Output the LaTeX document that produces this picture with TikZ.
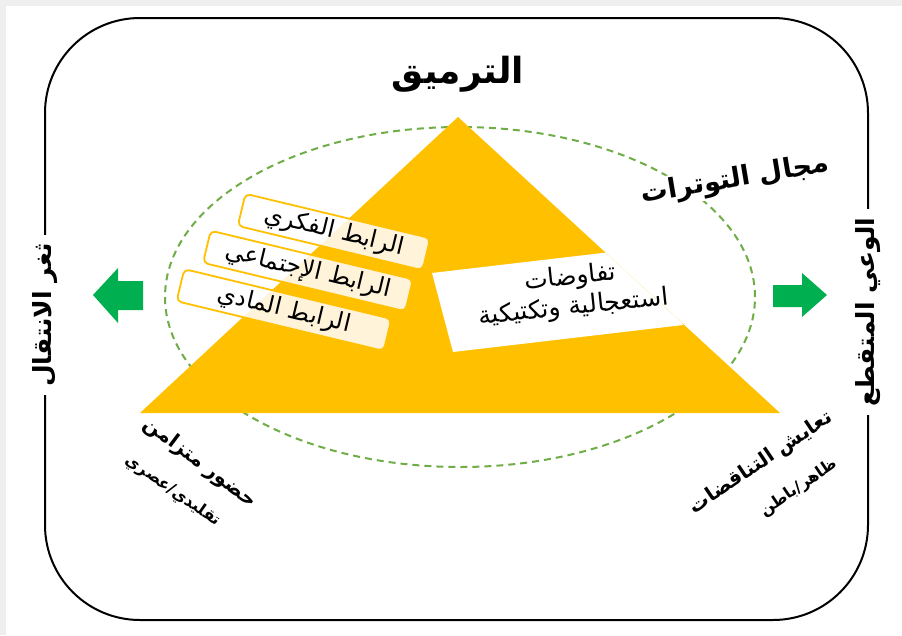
\documentclass[tikz,border=0pt]{standalone}
\usepackage{fontspec}
\newfontfamily\arabicfont[Script=Arabic]{DejaVu Sans}
\TeXXeTstate=1
\newcommand{\rtltext}[1]{\beginR #1\endR}
\definecolor{gold}{HTML}{FFC000}
\definecolor{goldtint}{HTML}{FFF3DA}
\definecolor{arrowgreen}{HTML}{00B050}
\definecolor{dashgreen}{HTML}{70AD47}
\definecolor{pagegray}{HTML}{EFEFEF}
\begin{document}
\begin{tikzpicture}[x=1pt,y=-1pt,
  labelbox/.style={draw=gold, line width=1.8pt, fill=white,
    path picture={\fill[goldtint] (apex) -- (baseL) -- (baseR) -- cycle;},
    rounded corners=5pt, minimum height=33pt, inner sep=0pt,
    rotate=-13.5, font=\arabicfont\fontsize{24}{28}\selectfont},
  sidelabel/.style={fill=white, inner xsep=8pt, inner ysep=2pt, rotate=90,
    font=\arabicfont\bfseries\fontsize{25}{30}\selectfont},
  cornerlabel/.style={inner sep=0pt, font=\arabicfont\bfseries\fontsize{20}{24}\selectfont},
  cornersub/.style={inner sep=0pt, font=\arabicfont\bfseries\fontsize{16}{20}\selectfont},
  frameline/.style={line width=2pt, rounded corners=95pt},
  tensionring/.style={draw=dashgreen, line width=2pt, dash pattern=on 7pt off 5pt},
  bigarrow/.style={fill=arrowgreen}]

% page background with its thin grey margin
\fill[pagegray] (0,0) rectangle (902,635);
\fill[white] (6,6) rectangle (902,635);
\useasboundingbox (0,0) rectangle (902,635);

% outer rounded frame
\draw[frameline] (45,18) rectangle (868,620);

% dashed field of tensions
\draw[tensionring] (460,297) ellipse [x radius=295pt, y radius=170pt];

% the pyramid
\coordinate (apex) at (458,117);
\coordinate (baseL) at (140,413);
\coordinate (baseR) at (780,413);
\fill[gold] (apex) -- (baseL) -- (baseR) -- cycle;

% white band cut into the pyramid
\coordinate (cutA) at (432,273);
\coordinate (cutB) at (662,246);
\coordinate (cutC) at (683,325);
\coordinate (cutD) at (453,352);
\begin{scope}
  \clip (apex) -- (baseL) -- (baseR) -- cycle;
  \fill[white] (cutA) -- (cutB) -- (cutC) -- (cutD) -- cycle;
\end{scope}

\node[rotate=6, align=center, font=\arabicfont\fontsize{25}{30}\selectfont]
  (negot) at (572,293) {\rtltext{تفاوضات}\\ \rtltext{استعجالية وتكتيكية}};

% the three links
\node[labelbox, minimum width=190pt] (linkA) at (334,232) {\rtltext{الرابط الفكري}};
\node[labelbox, minimum width=208pt] (linkB) at (308,271) {\rtltext{الرابط الإجتماعي}};
\node[labelbox, minimum width=213pt] (linkC) at (284,310) {\rtltext{الرابط المادي}};

% titles
\node[font=\arabicfont\bfseries\fontsize{36}{40}\selectfont] (title) at (458,74) {\rtltext{الترميق}};
\node[rotate=9.5, fill=white, inner sep=2pt, font=\arabicfont\bfseries\fontsize{27}{32}\selectfont]
  (field) at (735,180) {\rtltext{مجال التوترات}};

% side labels sitting on the frame
\node[sidelabel] (leftlab) at (45,315) {\rtltext{ثغر الانتقال}};
\node[sidelabel] (rightlab) at (868,312) {\rtltext{الوعي المتقطع}};

% green arrows
\fill[bigarrow] (93,295) -- (118,268) -- (118,281) -- (143,281) -- (143,310)
  -- (118,310) -- (118,323) -- cycle;
\fill[bigarrow] (827,295) -- (802,273) -- (802,285) -- (773,285) -- (773,307)
  -- (802,307) -- (802,317) -- cycle;

% bottom corner labels
\node[cornerlabel, rotate=-37] (presence) at (200,463) {\rtltext{حضور متزامن}};
\node[cornersub, rotate=-35] (presenceSub) at (173,491) {\rtltext{تقليدي/عصري}};
\node[cornerlabel, rotate=34] (coexist) at (761,463) {\rtltext{تعايش التناقضات}};
\node[cornersub, rotate=34] (coexistSub) at (799,488) {\rtltext{ظاهر/باطن}};

\end{tikzpicture}
\end{document}
